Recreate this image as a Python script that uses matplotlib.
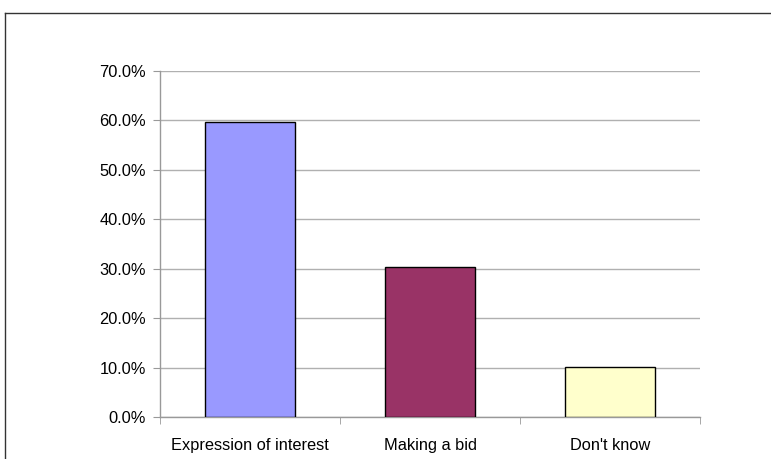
import matplotlib.pyplot as plt
from matplotlib.lines import Line2D
from matplotlib.ticker import FuncFormatter

categories = ["Expression of interest", "Making a bid", "Don't know"]
shares = [59.6, 30.3, 10.1]
bar_colors = ["#9999FF", "#993366", "#FFFFCC"]
y_ticks = [0, 10, 20, 30, 40, 50, 60, 70]

plt.rcParams['font.family'] = ['Liberation Sans', 'DejaVu Sans']

fig = plt.figure(figsize=(7.71, 4.59), dpi=100)

# outer frame (top and left edges visible)
fig.add_artist(Line2D([5 / 771, 1.0], [1 - 13 / 459, 1 - 13 / 459], color="#333333", lw=1.0))
fig.add_artist(Line2D([5 / 771, 5 / 771], [0.0, 1 - 13 / 459], color="#333333", lw=1.0))

ax = fig.add_axes([160 / 771, 1 - 417 / 459, 540 / 771, 346 / 459])

x = list(range(len(categories)))
ax.bar(x, shares, width=0.5, color=bar_colors, edgecolor="black", linewidth=1.0, zorder=3)

ax.set_xlim(-0.5, len(categories) - 0.5)
ax.set_ylim(0, 70)
ax.set_yticks(y_ticks)
ax.yaxis.set_major_formatter(FuncFormatter(lambda v, p: f"{v:.1f}%"))
ax.yaxis.grid(True, color="#b0b0b0", lw=1.0, zorder=0)

ax.set_xticks(x)
ax.set_xticklabels(categories)
ax.set_xticks([i - 0.5 for i in range(len(categories) + 1)], minor=True)
ax.tick_params(axis="x", which="major", length=0, pad=15, labelsize=11.8)
ax.tick_params(axis="x", which="minor", length=5, color="#999999", direction="out")
ax.tick_params(axis="y", length=5, color="#999999", labelsize=11.8, pad=5)

for side in ("top", "right"):
    ax.spines[side].set_visible(False)
for side in ("left", "bottom"):
    ax.spines[side].set_color("#999999")
    ax.spines[side].set_linewidth(1.0)

fig.savefig("out.png", dpi=100)
